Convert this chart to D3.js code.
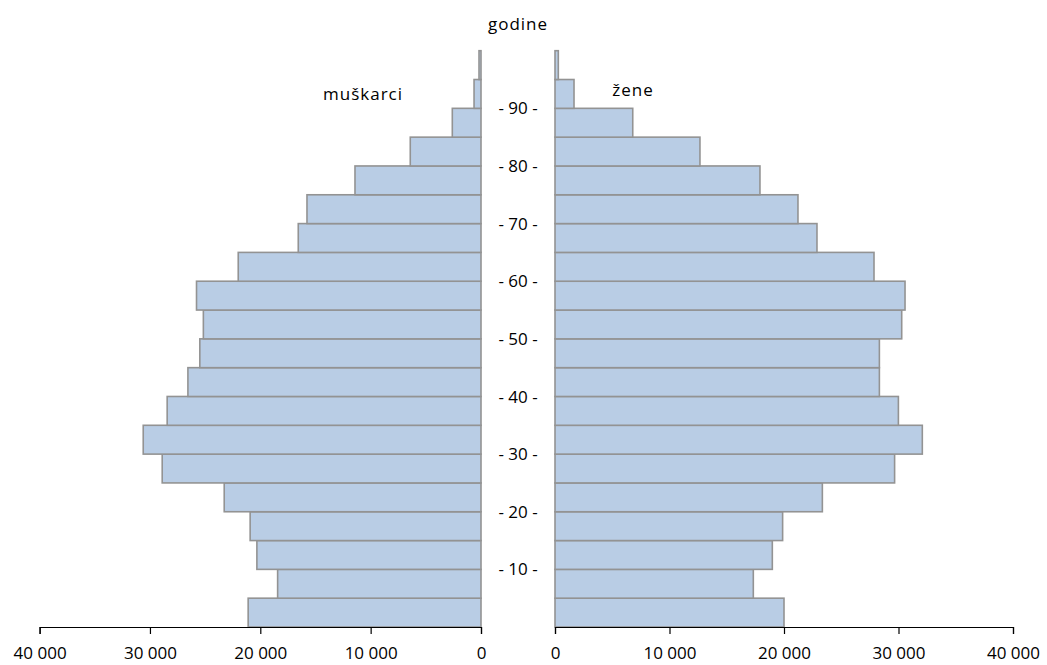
<!DOCTYPE html>
<html>
<head>
<meta charset="utf-8">
<script src="https://cdn.jsdelivr.net/npm/d3@7"></script>
<style>
  html, body { margin: 0; padding: 0; background: #ffffff; }
  svg { display: block; }
  text { font-family: "Open Sans", "Noto Sans", sans-serif; fill: #000; }
</style>
</head>
<body>
<svg id="chart" width="1047" height="665"></svg>
<script>
// Age groups (5-year), bottom to top
const ageGroups = ["0-4","5-9","10-14","15-19","20-24","25-29","30-34","35-39","40-44","45-49",
                   "50-54","55-59","60-64","65-69","70-74","75-79","80-84","85-89","90-94","95+"];
// Men (muškarci), values per age group
const men = [21100, 18430, 20310, 20920, 23270, 28890, 30610, 28440, 26560, 25480,
             25160, 25780, 22000, 16560, 15770, 11420, 6410, 2600, 630, 180];
// Women (žene), values per age group
const women = [20000, 17320, 18980, 19880, 23350, 29660, 32080, 29990, 28330, 28330,
               30280, 30570, 27860, 22880, 21220, 17900, 12660, 6790, 1660, 290];
// Age tick labels (placed at group boundaries)
const ageTicks = [10, 20, 30, 40, 50, 60, 70, 80, 90];
// Population axis ticks
const popTicks = [0, 10000, 20000, 30000, 40000];

const svg = d3.select("#chart");
const axisY = 627;

const y = d3.scaleBand().domain(ageGroups).range([axisY, 50.7]).padding(0);
const xL = d3.scaleLinear().domain([0, 40000]).range([481, 39.6]);
const xR = d3.scaleLinear().domain([0, 40000]).range([555, 1013]);

const fmt = v => d3.format(",")(v).replace(/,/g, " ");

const fill = "#b9cde5", stroke = "#939393";

// Men bars
svg.append("g").selectAll("rect").data(men).join("rect")
  .attr("x", d => xL(d))
  .attr("y", (d, i) => y(ageGroups[i]))
  .attr("width", d => xL(0) - xL(d))
  .attr("height", y.bandwidth())
  .attr("fill", fill).attr("stroke", stroke).attr("stroke-width", 1.6);

// Women bars
svg.append("g").selectAll("rect").data(women).join("rect")
  .attr("x", xR(0))
  .attr("y", (d, i) => y(ageGroups[i]))
  .attr("width", d => xR(d) - xR(0))
  .attr("height", y.bandwidth())
  .attr("fill", fill).attr("stroke", stroke).attr("stroke-width", 1.6);

// Axes
function styleAxis(g) {
  g.select(".domain").attr("stroke", "#000").attr("stroke-width", 1.2);
  g.selectAll(".tick line").attr("stroke", "#000").attr("stroke-width", 1.2);
  g.selectAll(".tick text").style("font-family", "'Open Sans', sans-serif").style("font-size", "17px").attr("fill", "#000");
}
svg.append("g").attr("transform", `translate(0,${axisY})`)
  .call(d3.axisBottom(xL).tickValues(popTicks).tickFormat(fmt).tickSize(7).tickSizeOuter(7).tickPadding(13))
  .call(styleAxis);
svg.append("g").attr("transform", `translate(0,${axisY})`)
  .call(d3.axisBottom(xR).tickValues(popTicks).tickFormat(fmt).tickSize(7).tickSizeOuter(7).tickPadding(13))
  .call(styleAxis);

// Age labels at boundaries
const ageBoundaryY = a => y(ageGroups[a / 5]) + y.bandwidth();
svg.append("g").selectAll("text").data(ageTicks).join("text")
  .attr("x", 518)
  .attr("y", d => ageBoundaryY(d))
  .attr("dy", "0.36em")
  .attr("text-anchor", "middle")
  .style("font-size", "17px")
  .style("white-space", "pre")
  .text(d => `- ${d} -`);

// Titles
svg.append("text").attr("x", 518).attr("y", 30).attr("text-anchor", "middle")
  .style("font-size", "17px").style("letter-spacing", "1px").text("godine");
svg.append("text").attr("x", 363).attr("y", 100).attr("text-anchor", "middle")
  .style("font-size", "17px").style("letter-spacing", "1px").text("muškarci");
svg.append("text").attr("x", 633).attr("y", 95.5).attr("text-anchor", "middle")
  .style("font-size", "17px").style("letter-spacing", "1px").text("žene");
</script>
</body>
</html>
